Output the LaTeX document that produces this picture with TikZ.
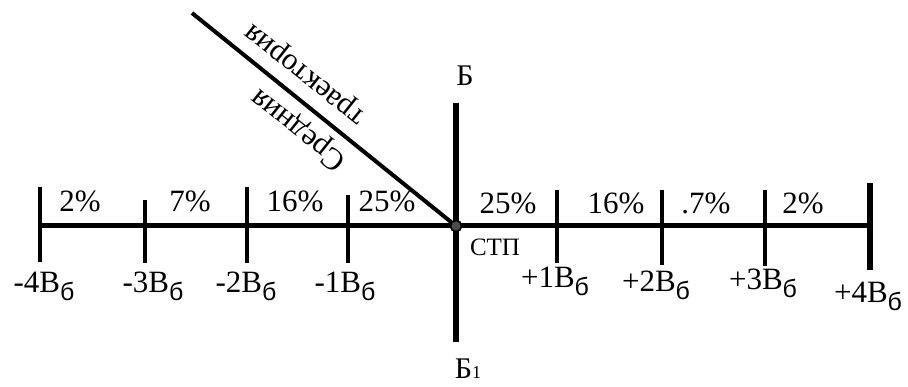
\documentclass[tikz,border=0pt]{standalone}
\usepackage{fontspec}
\setmainfont{Liberation Serif}
\newfontfamily\subfont{Liberation Sans}
\newcommand\Vbsub{В\raisebox{-8pt}{\subfont\fontsize{25}{25}\selectfont б}}
\begin{document}
\begin{tikzpicture}[x=1pt,y=-1pt,
  axisline/.style={line width=5pt},
  vline/.style={line width=6.5pt},
  diagline/.style={line width=4pt},
  tickline/.style={line width=3.5pt},
  bigtick/.style={line width=5.5pt},
  lbl/.style={font=\fontsize{31}{33}\selectfont, inner sep=0pt, anchor=base},
  pct/.style={lbl},
  rot/.style={font=\fontsize{31}{33}\selectfont, inner sep=0pt, rotate=141.4}]
\useasboundingbox (0,0) rectangle (908,387);

% coordinates
\coordinate (L4) at (40,226);
\coordinate (R4) at (870,226);
\coordinate (top) at (456,103);
\coordinate (bot) at (456,342);
\coordinate (traj) at (192,13);

% ticks
\coordinate (tL4a) at (40,187);  \coordinate (tL4b) at (40,262);
\coordinate (tL3a) at (145,200); \coordinate (tL3b) at (145,263);
\coordinate (tL2a) at (247,187); \coordinate (tL2b) at (247,263);
\coordinate (tL1a) at (348,195); \coordinate (tL1b) at (348,263);
\coordinate (tR1a) at (557,190); \coordinate (tR1b) at (557,263);
\coordinate (tR2a) at (662,190); \coordinate (tR2b) at (662,265);
\coordinate (tR3a) at (765,190); \coordinate (tR3b) at (765,266);
\coordinate (tR4a) at (870,183); \coordinate (tR4b) at (870,270);

\draw[tickline] (tL4a) -- (tL4b);
\draw[tickline] (tL3a) -- (tL3b);
\draw[tickline] (tL2a) -- (tL2b);
\draw[tickline] (tL1a) -- (tL1b);
\draw[tickline] (tR1a) -- (tR1b);
\draw[tickline] (tR2a) -- (tR2b);
\draw[tickline] (tR3a) -- (tR3b);
\draw[bigtick] (tR4a) -- (tR4b);

\node[circle, draw, fill=black!70, line width=1.5pt, minimum size=11pt, inner sep=0pt] (stp) at (456,226) {};

\draw[axisline] (L4) -- (R4);
\draw[vline] (top) -- (bot);
\draw[diagline] (traj) -- (stp.center);
\node[circle, draw, fill=black!70, line width=1.5pt, minimum size=11pt, inner sep=0pt] at (stp) {};

% percentages
\node[pct] (pL4) at (80,212) {2\%};
\node[pct] (pL3) at (190,212) {7\%};
\node[pct] (pL2) at (295,212) {16\%};
\node[pct] (pL1) at (387,212) {25\%};
\node[pct] (pR1) at (508,214) {25\%};
\node[pct] (pR2) at (616,214) {16\%};
\node[pct] (pR3) at (706,214) {.7\%};
\node[pct] (pR4) at (803,214) {2\%};

% scale labels
\node[lbl] (vL4) at (44,293) {-4\Vbsub};
\node[lbl] (vL3) at (153,293) {-3\Vbsub};
\node[lbl] (vL2) at (246,293) {-2\Vbsub};
\node[lbl] (vL1) at (345,293) {-1\Vbsub};
\node[lbl] (vR1) at (555,288) {+1\Vbsub};
\node[lbl] (vR2) at (656,292) {+2\Vbsub};
\node[lbl] (vR3) at (763,290) {+3\Vbsub};
\node[lbl] (vR4) at (868,303) {+4\Vbsub};

% centre label
\node[font=\fontsize{25}{27}\selectfont, inner sep=0pt] (stplbl) at (495,247) {СТП};

% axis labels
\node[font=\fontsize{30}{32}\selectfont, inner sep=0pt] (B) at (465,76) {Б};
\node[font=\fontsize{30}{32}\selectfont, inner sep=0pt, anchor=base] (B1) at (468,379) {Б{\fontsize{18}{18}\selectfont 1}};

% trajectory text
\node[rot] (t1) at (299,129) {Средния};
\node[rot] (t2) at (307,72) {траектория};
\end{tikzpicture}
\end{document}
